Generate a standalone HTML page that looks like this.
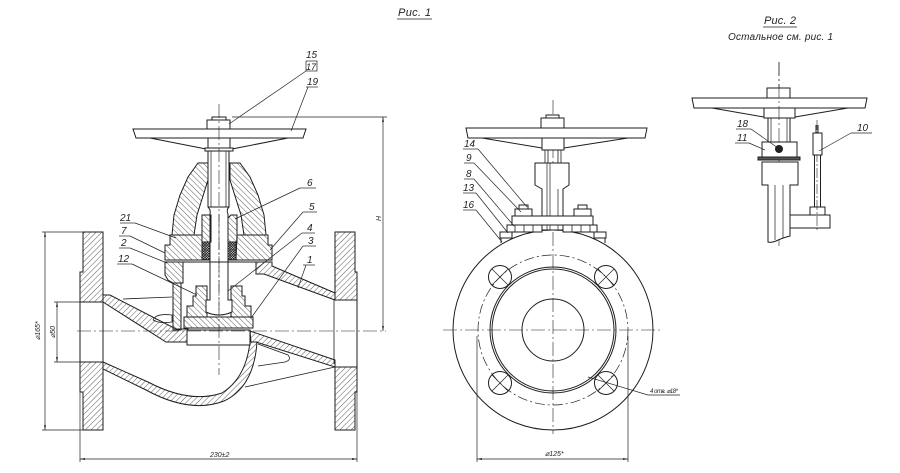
<!DOCTYPE html>
<html><head><meta charset="utf-8"><style>
html,body{margin:0;padding:0;background:#fff;}
svg{display:block;}
text{font-family:"Liberation Sans",sans-serif;font-style:italic;fill:#222;}
</style></head><body>
<svg width="900" height="473" viewBox="0 0 900 473" xmlns="http://www.w3.org/2000/svg">
<defs>
<pattern id="hA" patternUnits="userSpaceOnUse" width="4" height="4" patternTransform="rotate(45)"><line x1="0" y1="0" x2="0" y2="4" stroke="#333" stroke-width="0.8"/></pattern>
<pattern id="hB" patternUnits="userSpaceOnUse" width="4" height="4" patternTransform="rotate(-45)"><line x1="0" y1="0" x2="0" y2="4" stroke="#333" stroke-width="0.8"/></pattern>
<pattern id="hX" patternUnits="userSpaceOnUse" width="2.5" height="2.5"><rect width="2.5" height="2.5" fill="#fff"/><path d="M0,0 L2.5,2.5 M2.5,0 L0,2.5" stroke="#222" stroke-width="0.8"/></pattern>
<marker id="ar" viewBox="0 0 10 10" refX="10" refY="5" markerWidth="7" markerHeight="7" orient="auto-start-reverse"><path d="M0,3 L10,5 L0,7 z" fill="#222"/></marker>
</defs>

<!-- ================= Рис. 1 title ================= -->
<text x="398" y="16" font-size="11" textLength="33">Рис.  1</text>
<line x1="397" y1="19" x2="432" y2="19" stroke="#222" stroke-width="0.8"/>

<!-- ================= LEFT VIEW ================= -->
<g stroke="#1e1e1e" stroke-width="1" fill="none">
  <!-- flanges -->
  <polygon points="83,232 103,232 103,302 80,302 80,272 83,272" fill="url(#hA)"/>
  <polygon points="80,362 103,362 103,430 83,430 83,392 80,392" fill="url(#hA)"/>
  <polygon points="335,232 355,232 355,272 357,272 357,300 335,300" fill="url(#hA)"/>
  <polygon points="335,367 357,367 357,392 355,392 355,430 335,430" fill="url(#hA)"/>
  <line x1="80" y1="302" x2="80" y2="362"/>
  <line x1="103" y1="302" x2="103" y2="362"/>
  <line x1="334" y1="300" x2="334" y2="364" stroke-width="0.8"/>
  <line x1="357" y1="300" x2="357" y2="367"/>

  <!-- body walls -->
  <polygon points="103,295 110,295 176,329 188,329 188,342 166,342 103,302" fill="url(#hA)"/>
  <path d="M103,362 L148,382 Q190,404 222,393 Q246,378 250,342 L257,342 Q254,387 224,401 Q190,414 146,390 L103,369 Z" fill="url(#hA)"/>
  <polygon points="250,331 335,360 335,367 256,342 251,342" fill="url(#hA)"/>
  <polygon points="256,262 272,262 272,266 335,293 335,300 264,274 256,274" fill="url(#hA)"/>

  <!-- column -->
  <polygon points="165,262 183,262 183,283 173,283 168,280 165,275" fill="url(#hB)"/>
  <rect x="173" y="283" width="8" height="47" fill="url(#hB)"/>

  <!-- seat ring -->
  <rect x="187" y="330" width="63" height="15" fill="#fff"/>

  <!-- disc -->
  <polygon points="184,317 253,317 253,328 184,328" fill="url(#hB)"/>
  <polygon points="196,286 207,286 207,317 187,317 187,306 193,306 193,296 196,296" fill="url(#hB)"/>
  <polygon points="242,286 231,286 231,317 251,317 251,306 245,306 245,296 242,296" fill="url(#hB)"/>

  <!-- stem lower + head -->
  <path d="M210,214 L210,300 L206,300 L206,312 Q219,318 232,312 L232,300 L228,300 L228,214" fill="#fff"/>
  <line x1="219" y1="214" x2="219" y2="312" stroke-width="0.5" stroke-dasharray="8 2 2 2"/>

  <!-- bonnet -->
  <polygon points="170,235 202,235 202,260 165,260 165,245 170,245" fill="url(#hB)"/>
  <polygon points="237,235 268,235 268,245 272,245 272,260 236,260" fill="url(#hB)"/>
  <rect x="202" y="242" width="8" height="18" fill="url(#hX)"/>
  <rect x="228" y="242" width="8" height="18" fill="url(#hX)"/>
  <line x1="165" y1="262" x2="272" y2="262"/>
  <!-- gland 6 -->
  <polygon points="202,215 211,215 211,242 202,242" fill="url(#hB)"/>
  <polygon points="228,218 231,215 237,215 237,242 228,242" fill="url(#hB)"/>

  <!-- yoke arms -->
  <polygon points="198,163 208,163 208,180 203,196 197,215 194,235 172,235 174,215 180,195 188,177" fill="url(#hB)"/>
  <polygon points="240,163 230,163 230,180 235,196 241,215 244,235 266,235 264,215 258,195 250,177" fill="url(#hB)"/>

  <!-- stem upper -->
  <rect x="208" y="151" width="21" height="56" fill="#fff"/>
  <line x1="211" y1="151" x2="211" y2="207" stroke-width="0.7"/>
  <line x1="226" y1="151" x2="226" y2="207" stroke-width="0.7"/>
  <path d="M208,207 Q211,210 210,214 M229,207 Q226,210 228,214"/>

  <!-- handwheel -->
  <polygon points="133,129 306,129 303,138 136,138" fill="#fff"/>
  <line x1="150" y1="138" x2="206" y2="149"/>
  <line x1="288" y1="138" x2="232" y2="149"/>
  <rect x="208" y="138" width="22" height="11" fill="#fff"/>
  <rect x="205" y="148" width="28" height="3" fill="#fff"/>
  <rect x="207" y="120" width="23" height="9" fill="#fff"/>
  <rect x="212" y="117" width="14" height="3" fill="#fff"/>

  <!-- misc thin lines -->
  <line x1="123" y1="299" x2="172" y2="297" stroke-width="0.8"/>
  <path d="M153,320 Q156,313 172,315 L172,322 Q160,324 153,320" stroke-width="0.8"/>
  <path d="M258,344 L288,355 Q292,360 285,362 L258,366" stroke-width="0.8"/>
  <line x1="245" y1="387" x2="335" y2="367" stroke-width="0.8"/>

  <!-- centerlines -->
  <line x1="219" y1="104" x2="219" y2="375" stroke-width="0.6" stroke-dasharray="14 3 2 3"/>
  <line x1="77" y1="331" x2="386" y2="331" stroke-width="0.6" stroke-dasharray="14 3 2 3"/>
</g>

<!-- dimensions left view -->
<g stroke="#222" stroke-width="0.7" fill="none">
  <line x1="42" y1="232" x2="83" y2="232"/>
  <line x1="42" y1="430" x2="83" y2="430"/>
  <line x1="45" y1="232" x2="45" y2="430" marker-start="url(#ar)" marker-end="url(#ar)"/>
  <line x1="54" y1="302" x2="80" y2="302"/>
  <line x1="54" y1="362" x2="80" y2="362"/>
  <line x1="57" y1="302" x2="57" y2="362" marker-start="url(#ar)" marker-end="url(#ar)"/>
  <line x1="80" y1="392" x2="80" y2="462"/>
  <line x1="357" y1="392" x2="357" y2="462"/>
  <line x1="80" y1="459" x2="357" y2="459" marker-start="url(#ar)" marker-end="url(#ar)"/>
  <line x1="232" y1="117" x2="387" y2="117"/>
  <line x1="383" y1="117" x2="383" y2="331" marker-start="url(#ar)" marker-end="url(#ar)"/>
</g>
<text x="0" y="0" font-size="7" transform="translate(40,340) rotate(-90)">⌀165*</text>
<text x="0" y="0" font-size="7" transform="translate(55,338) rotate(-90)">⌀50</text>
<text x="210" y="457" font-size="7">230±2</text>
<text x="0" y="0" font-size="7" transform="translate(381,221) rotate(-90)">H</text>

<!-- labels left view -->
<g stroke="#222" stroke-width="0.7" fill="none">
  <rect x="306" y="61" width="11" height="10"/>
  <line x1="306" y1="71" x2="229" y2="124"/>
  <line x1="306" y1="87" x2="318" y2="87"/>
  <line x1="308" y1="87" x2="291" y2="131"/>
  <line x1="300" y1="188" x2="316" y2="188"/>
  <line x1="300" y1="188" x2="235" y2="219"/>
  <line x1="303" y1="212" x2="317" y2="212"/>
  <line x1="303" y1="212" x2="270" y2="250"/>
  <line x1="120" y1="223" x2="135" y2="223"/>
  <line x1="135" y1="223" x2="176" y2="238"/>
  <line x1="119" y1="236" x2="130" y2="236"/>
  <line x1="130" y1="236" x2="165" y2="253"/>
  <line x1="119" y1="248" x2="130" y2="248"/>
  <line x1="130" y1="248" x2="167" y2="263"/>
  <line x1="117" y1="264" x2="132" y2="264"/>
  <line x1="132" y1="264" x2="197" y2="295"/>
  <line x1="302" y1="233" x2="315" y2="233"/>
  <line x1="302" y1="233" x2="228" y2="291"/>
  <line x1="303" y1="246" x2="316" y2="246"/>
  <line x1="303" y1="246" x2="251" y2="318"/>
  <line x1="303" y1="265" x2="315" y2="265"/>
  <line x1="306" y1="265" x2="298" y2="288"/>
</g>
<g font-size="10">
  <text x="306" y="58">15</text>
  <text x="306" y="70" font-size="9">17</text>
  <text x="307" y="85">19</text>
  <text x="307" y="186">6</text>
  <text x="309" y="210">5</text>
  <text x="120" y="221">21</text>
  <text x="121" y="234">7</text>
  <text x="121" y="246">2</text>
  <text x="118" y="262">12</text>
  <text x="307" y="231">4</text>
  <text x="308" y="244">3</text>
  <text x="307" y="263">1</text>
</g>

<!-- ================= RIGHT (FRONT) VIEW ================= -->
<g stroke="#1e1e1e" stroke-width="1" fill="none">
  <circle cx="553" cy="330" r="100"/>
  <circle cx="553" cy="330" r="63"/>
  <circle cx="553" cy="330" r="61"/>
  <circle cx="553" cy="330" r="31"/>
  <circle cx="553" cy="330" r="75" stroke-width="0.7" stroke-dasharray="10 3 2 3"/>
  <circle cx="500" cy="277" r="11.5"/>
  <circle cx="606" cy="277" r="11.5"/>
  <circle cx="500" cy="383" r="11.5"/>
  <circle cx="606" cy="383" r="11.5"/>
  <path d="M492,269 L508,285 M508,269 L492,285 M598,269 L614,285 M614,269 L598,285 M492,375 L508,391 M508,375 L492,391 M598,375 L614,391 M614,375 L598,391" stroke-width="0.7"/>
  <line x1="443" y1="330" x2="663" y2="330" stroke-width="0.6" stroke-dasharray="14 3 2 3"/>
  <line x1="553" y1="100" x2="553" y2="434" stroke-width="0.6" stroke-dasharray="14 3 2 3"/>

  <!-- handwheel -->
  <polygon points="466,128 647,128 645,138 468,138" fill="#fff"/>
  <line x1="482" y1="138" x2="542" y2="148"/>
  <line x1="628" y1="138" x2="564" y2="148"/>
  <rect x="542" y="138" width="22" height="12" fill="#fff"/>
  <rect x="541" y="118" width="23" height="10" fill="#fff"/>
  <rect x="546" y="115" width="13" height="3" fill="#fff"/>
  <path d="M545,150 V163 M548,150 V163 M558,150 V163 M561,150 V163" stroke-width="0.8"/>
  <polygon points="535,163 569,163 569,185 563,189 563,230 542,230 542,189 535,185" fill="#fff"/>
  <path d="M547,163 V230 M550,163 V230 M558,189 V230" stroke-width="0.7"/>
  <!-- flange + nuts -->
  <rect x="512" y="216" width="81" height="9" fill="#fff"/>
  <rect x="515" y="209" width="17" height="7" fill="#fff"/>
  <rect x="519" y="205" width="9" height="4" fill="#fff"/>
  <rect x="574" y="209" width="17" height="7" fill="#fff"/>
  <rect x="578" y="205" width="9" height="4" fill="#fff"/>
  <rect x="507" y="225" width="35" height="7" fill="#fff"/>
  <rect x="563" y="225" width="34" height="7" fill="#fff"/>
  <path d="M515,225 V232 M524,225 V232 M533,225 V232 M572,225 V232 M581,225 V232 M590,225 V232" stroke-width="0.8"/>
  <rect x="500" y="232" width="12" height="6" fill="#fff"/>
  <rect x="594" y="232" width="12" height="6" fill="#fff"/>
  <line x1="501" y1="238" x2="501" y2="243"/>
  <line x1="605" y1="238" x2="605" y2="243"/>
</g>
<!-- dims right view -->
<g stroke="#222" stroke-width="0.7" fill="none">
  <line x1="477" y1="336" x2="477" y2="462"/>
  <line x1="628" y1="336" x2="628" y2="462"/>
  <line x1="477" y1="459" x2="628" y2="459" marker-start="url(#ar)" marker-end="url(#ar)"/>
  <polyline points="588,377 648,395 680,395"/>
  <line x1="463" y1="149" x2="478" y2="149"/>
  <line x1="478" y1="149" x2="527" y2="207"/>
  <line x1="464" y1="163" x2="474" y2="163"/>
  <line x1="474" y1="163" x2="521" y2="212"/>
  <line x1="464" y1="179" x2="474" y2="179"/>
  <line x1="474" y1="179" x2="514" y2="226"/>
  <line x1="463" y1="193" x2="476" y2="193"/>
  <line x1="476" y1="193" x2="508" y2="233"/>
  <line x1="463" y1="210" x2="476" y2="210"/>
  <line x1="476" y1="210" x2="502" y2="242"/>
</g>
<text x="545" y="456" font-size="7">⌀125*</text>
<text x="650" y="393" font-size="6" textLength="28">4 отв. ⌀18*</text>
<g font-size="10">
  <text x="464" y="147">14</text>
  <text x="466" y="161">9</text>
  <text x="466" y="177">8</text>
  <text x="463" y="191">13</text>
  <text x="463" y="208">16</text>
</g>

<!-- ================= Рис. 2 ================= -->
<text x="764" y="24" font-size="11" textLength="32">Рис.  2</text>
<line x1="763" y1="27" x2="797" y2="27" stroke="#222" stroke-width="0.8"/>
<text x="728" y="40" font-size="10" textLength="105">Остальное  см.  рис.  1</text>

<g stroke="#1e1e1e" stroke-width="1" fill="none">
  <line x1="779" y1="62" x2="779" y2="246" stroke-width="0.6" stroke-dasharray="14 3 2 3"/>
  <path d="M762,162 H798 V185 H790 V236 Q782,238 776,241 Q771,243 768,242 V185 H762 Z" fill="#fff"/>
  <line x1="775" y1="185" x2="775" y2="240" stroke-width="0.7"/>
  <line x1="783" y1="185" x2="783" y2="238" stroke-width="0.7"/>
  <rect x="790" y="215" width="40" height="13" fill="#fff"/>
  <rect x="810" y="207" width="15" height="8" fill="#fff"/>
  <line x1="817" y1="120" x2="817" y2="232" stroke-width="0.6" stroke-dasharray="10 2 2 2"/>
  <rect x="813" y="133" width="9" height="22" fill="#fff"/>
  <path d="M814.5,155 V207 M820.5,155 V207"/>
  <line x1="816" y1="125" x2="816" y2="133"/>
  <line x1="818" y1="125" x2="818" y2="133"/>
  <rect x="758" y="157" width="42" height="3" fill="#555"/>
  <rect x="762" y="142" width="35" height="15" fill="#fff"/>
  <circle cx="779" cy="149" r="3.5" fill="#222"/>
  <rect x="768" y="118" width="22" height="24" fill="#fff"/>
  <path d="M771,118 V142 M787,118 V142" stroke-width="0.7"/>
  <polygon points="692,98 867,98 865,108 694,108" fill="#fff"/>
  <line x1="712" y1="108" x2="764" y2="117"/>
  <line x1="848" y1="108" x2="795" y2="117"/>
  <rect x="764" y="108" width="31" height="10" fill="#fff"/>
  <rect x="767" y="88" width="23" height="10" fill="#fff"/>
  <line x1="779" y1="62" x2="779" y2="142" stroke-width="0.6" stroke-dasharray="14 3 2 3"/>
</g>
<g stroke="#222" stroke-width="0.7" fill="none">
  <line x1="736" y1="129" x2="751" y2="129"/>
  <line x1="751" y1="129" x2="778" y2="148"/>
  <line x1="735" y1="143" x2="749" y2="143"/>
  <line x1="749" y1="143" x2="765" y2="150"/>
  <line x1="851" y1="133" x2="872" y2="133"/>
  <line x1="851" y1="133" x2="819" y2="151"/>
</g>
<g font-size="10">
  <text x="737" y="127">18</text>
  <text x="737" y="141">11</text>
  <text x="857" y="131">10</text>
</g>
</svg>
</body></html>
